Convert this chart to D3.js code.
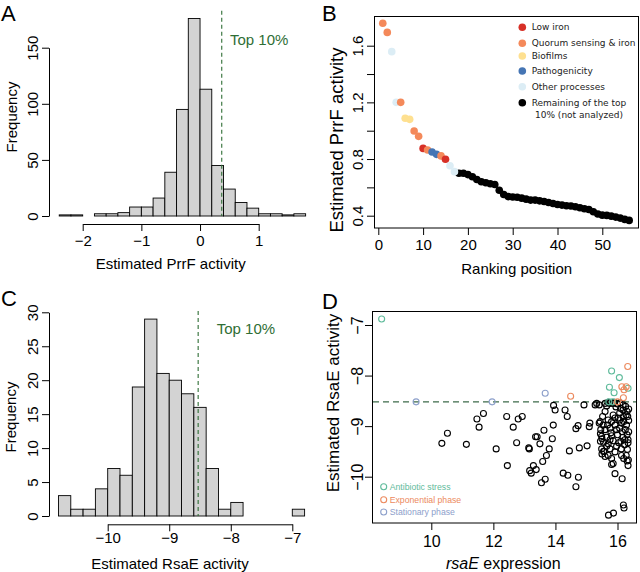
<!DOCTYPE html>
<html><head><meta charset="utf-8">
<script src="https://cdn.jsdelivr.net/npm/d3@7"></script>
<style>body{margin:0;background:#fff}</style>
</head><body>
<script>
// ---------- DATA ----------
// Panel A: histogram of estimated PrrF activity
const prrfBinEdges = [-2.4,-2.2,-2.0,-1.8,-1.6,-1.4,-1.2,-1.0,-0.8,-0.6,-0.4,-0.2,0,0.2,0.4,0.6,0.8,1.0,1.2,1.4,1.6,1.8];
const prrfCounts   = [1,1,0,2,2,3,8,8,16,39,95,176,113,45,24,12,7,2,2,1,2];
const prrfCutoff = 0.37;
const prrfXTicks = [-2,-1,0,1];
const prrfYTicks = [0,50,100,150];

// Panel B: ranked top-10% PrrF activity
const prrfRankedValues = [1.758,1.694,1.558,1.20,1.20,1.088,1.08,0.998,0.96,0.875,0.864,0.85,0.833,0.822,0.798,0.753,0.711,
  0.70,0.70,0.69,0.675,0.656,0.64,0.633,0.626,0.62,0.58,0.55,0.535,0.532,0.53,0.524,0.517,0.51,0.51,0.505,0.50,0.493,0.486,0.479,0.475,0.47,0.468,0.463,0.456,0.449,0.444,0.428,0.412,0.404,0.402,0.397,0.39,0.383,0.374,0.367];
const prrfRankedCategory = ["Q","Q","O","O","Q","B","B","Q","Q","L","Q","P","P","Q","L","O","O",
  "R","R","R","R","R","R","R","R","R","R","R","R","R","R","R","R","R","R","R","R","R","R","R","R","R","R","R","R","R","R","R","R","R","R","R","R","R","R","R","R"];
const rankCategories = ["L","Q","B","P","O","R"];
const rankCategoryLabels = ["Low iron","Quorum sensing & iron","Biofilms","Pathogenicity","Other processes","Remaining of the top"];
const rankXTicks = [0,10,20,30,40,50];
const rankYTicks = [0.4,0.6,0.8,1.0,1.2,1.4,1.6];
const rankYLabelled = [0.4,0.8,1.2,1.6];

// Panel C: histogram of estimated RsaE activity
const rsaeBinEdges = [-10.8,-10.6,-10.4,-10.2,-10.0,-9.8,-9.6,-9.4,-9.2,-9.0,-8.8,-8.6,-8.4,-8.2,-8.0,-7.8,-7.6,-7.4,-7.2,-7.0,-6.8];
const rsaeCounts   = [3,1,1,4,7,6,19,29,21,20,18,16,7,1,2,0,0,0,0,1];
const rsaeCutoff = -8.53;
const rsaeXTicks = [-10,-9,-8,-7];
const rsaeYTicks = [0,5,10,15,20,25,30];

// Panel D: rsaE expression vs estimated activity
const antibioticPts = [[8.40,-6.88],[15.81,-7.91],[16.06,-8.04],[15.74,-8.23],[15.89,-8.34],[16.34,-8.25],[15.72,-8.52],[15.84,-8.52]];
const exponentialPts = [[14.49,-8.41],[16.33,-7.82],[16.14,-8.22],[16.28,-8.22],[16.21,-8.28],[16.19,-8.44],[16.0,-8.52]];
const stationaryPts = [[9.51,-8.52],[11.96,-8.52],[13.67,-8.35]];
const otherPts = [
 [10.34,-9.34],[10.52,-9.14],[11.13,-9.36],[11.47,-8.86],[11.54,-9.02],[11.68,-8.75],[12.09,-9.45],[12.43,-8.81],[12.45,-9.78],[12.64,-9.02],
 [12.75,-9.33],[12.80,-8.86],[12.93,-8.81],[13.14,-9.43],[13.16,-9.45],[13.17,-9.88],[13.22,-9.93],[13.29,-9.78],[13.38,-9.86],[13.36,-9.21],
 [13.41,-9.21],[13.50,-9.35],[13.55,-10.12],[13.67,-10.05],[13.59,-9.70],[13.71,-9.58],[13.80,-9.45],[13.63,-9.08],[13.90,-9.25],[13.93,-8.98],
 [13.94,-8.59],[13.99,-8.68],[14.31,-8.68],[14.38,-8.81],[14.45,-9.49],[14.25,-9.93],[14.40,-9.97],[14.66,-9.05],[14.73,-8.99],[14.77,-9.43],
 [14.66,-10.20],[14.74,-10.01],[14.92,-8.58],[15.09,-9.01],[15.11,-8.94],[15.02,-9.39],[15.28,-8.58],[15.33,-8.55],
 [15.41,-8.94],[15.45,-9.15],[15.50,-9.25],[15.45,-9.30],[15.55,-9.50],[15.50,-9.55],[15.60,-9.60],
 [15.41,-8.58],[15.60,-8.55],[15.70,-8.53],[15.86,-8.55],[16.00,-8.56],[16.18,-8.58],[16.26,-8.61],[16.36,-8.66],[15.60,-8.71],[15.52,-8.81],
 [15.44,-8.91],[15.70,-8.88],[15.86,-8.78],[16.07,-8.74],[16.28,-8.78],[16.20,-8.91],[16.36,-8.89],[15.46,-9.07],[15.60,-9.07],[15.76,-9.04],
 [15.92,-8.98],[16.07,-9.04],[16.25,-9.07],[16.36,-9.11],[15.49,-9.20],[15.65,-9.22],[15.81,-9.19],[16.00,-9.17],[16.18,-9.22],[16.34,-9.27],
 [15.55,-9.32],[15.70,-9.35],[15.86,-9.29],[16.04,-9.33],[16.23,-9.37],[15.57,-9.50],[15.76,-9.45],[15.92,-9.51],[16.12,-9.45],[16.28,-9.58],
 [15.81,-9.64],[15.86,-9.74],[16.31,-9.69],[16.34,-9.78],[15.92,-9.94],[16.15,-10.04],
 [16.31,-8.71],[16.33,-8.81],[16.29,-8.98],[16.31,-9.17],[16.34,-9.33],[16.32,-9.46],[16.24,-9.27],[16.19,-8.81],[16.13,-8.94],[16.15,-9.11],
 [16.11,-9.30],[15.97,-9.07],[15.97,-9.40],[15.79,-9.13],[15.68,-8.98],[15.54,-8.98],[15.92,-8.84],[15.81,-8.91],[16.07,-8.88],[16.18,-8.68],
 [16.02,-8.84],[15.65,-9.40],[15.76,-9.27],[15.49,-9.45],[15.70,-9.58],[16.13,-9.58],[16.20,-9.64],
 [15.75,-8.55],[15.90,-8.53],[16.08,-8.54],[15.65,-8.60],[15.95,-8.62],[16.10,-8.65],
 [15.71,-10.76],[15.87,-10.72],[16.19,-10.56],[16.21,-10.62],[15.81,-9.76],[16.35,-9.67]
];
const rsaeDCutoff = -8.52;
const exprXTicks = [10,12,14,16];
const exprYTicks = [-7,-8,-9,-10];
const dLegendLabels = ["Antibiotic stress","Exponential phase","Stationary phase"];

// ---------- STYLE ----------
const FONT = "'Liberation Sans', Arial, Helvetica, sans-serif";
const catColor = {L:"#d73027",Q:"#f4895a",B:"#fee090",P:"#4575b4",O:"#dcedf5",R:"#000000"};
const dColors = ["#5fbb9b","#ec8a5e","#8da0cb"];
const green = "#2f6e35";

const svg = d3.select("body").append("svg").attr("width",640).attr("height",572)
  .attr("font-family",FONT);
svg.append("rect").attr("width",640).attr("height",572).attr("fill","#fff");

function yAxisR(x0, scale, ticks, fmt, off, fs, keepDomain){
  const g = svg.append("g").attr("transform",`translate(${x0},0)`)
    .call(d3.axisLeft(scale).tickValues(ticks).tickFormat(fmt).tickSize(7).tickSizeOuter(0));
  g.attr("font-family",FONT).attr("font-size",fs);
  g.selectAll(".tick text").attr("x",0).attr("dy",null).attr("y",-off)
    .attr("text-anchor","middle").attr("dominant-baseline","central")
    .attr("transform","rotate(-90)").attr("fill","#000");
  g.selectAll("line,path").attr("stroke","#000");
  if(!keepDomain) g.select(".domain").remove();
  return g;
}
function xAxisR(y0, scale, ticks, fmt, off, fs, keepDomain){
  const g = svg.append("g").attr("transform",`translate(0,${y0})`)
    .call(d3.axisBottom(scale).tickValues(ticks).tickFormat(fmt).tickSize(7).tickSizeOuter(0));
  g.attr("font-family",FONT).attr("font-size",fs);
  g.selectAll(".tick text").attr("y",off).attr("dy","0.35em").attr("fill","#000");
  g.selectAll("line,path").attr("stroke","#000");
  if(!keepDomain) g.select(".domain").remove();
  return g;
}
function label(txt,x,y,fs,opts={}){
  const t = svg.append("text").attr("x",x).attr("y",y).attr("font-size",fs).attr("fill",opts.fill||"#000")
    .attr("text-anchor",opts.anchor||"start").text(txt);
  if(opts.rotate){ t.attr("transform",`rotate(-90,${x},${y})`).attr("dominant-baseline","central"); }
  if(opts.family) t.attr("font-family",opts.family);
  return t;
}
const fmtMinus = d => String(d).replace("-","\u2212");

// ---------- PANEL A ----------
const xA = d3.scaleLinear().domain([-2,1]).range([82.7,258.7]);
const yA = d3.scaleLinear().domain([0,150]).range([216,47.7]);
svg.append("g").selectAll("rect").data(prrfCounts).join("rect")
  .attr("x",(d,i)=>xA(prrfBinEdges[i]))
  .attr("width",(d,i)=>xA(prrfBinEdges[i+1])-xA(prrfBinEdges[i]))
  .attr("y",d=>yA(d)).attr("height",d=>yA(0)-yA(d))
  .attr("fill","#d3d3d3").attr("stroke","#000").attr("stroke-width",0.9);
svg.append("line").attr("x1",xA(prrfCutoff)).attr("x2",xA(prrfCutoff))
  .attr("y1",yA(183)).attr("y2",yA(0)).attr("stroke",green).attr("stroke-width",1.1).attr("stroke-dasharray","4,3");
label("Top 10%",230,45,15,{fill:green});
yAxisR(49,yA,prrfYTicks,d=>d,16.5,15,true);
xAxisR(224,xA,prrfXTicks,fmtMinus,16.5,15,true);
label("Frequency",11,117,15,{rotate:true,anchor:"middle"});
label("Estimated PrrF activity",170.7,263.5,15,{anchor:"middle"}).attr("dominant-baseline","central");
label("A",1,21,22);

// ---------- PANEL B ----------
const xB = d3.scaleLinear().domain([0,50]).range([378.3,602.3]);
const yB = d3.scaleLinear().domain([0.4,1.6]).range([215.7,45.7]);
svg.append("rect").attr("x",374.5).attr("y",16.5).attr("width",264).attr("height",211.5)
  .attr("fill","none").attr("stroke","#000");
const bPts = prrfRankedValues.map((v,i)=>({r:i+1,v,c:prrfRankedCategory[i]}));
svg.append("g").selectAll("circle").data(bPts.filter(d=>d.c==="R")).join("circle")
  .attr("cx",d=>xB(d.r)).attr("cy",d=>yB(d.v)).attr("r",3.8).attr("fill",d=>catColor[d.c]);
svg.append("g").selectAll("circle").data(bPts.filter(d=>d.c!=="R")).join("circle")
  .attr("cx",d=>xB(d.r)).attr("cy",d=>yB(d.v)).attr("r",3.8).attr("fill",d=>catColor[d.c]);
yAxisR(374,yB,rankYTicks,d=>rankYLabelled.includes(d)?d3.format(".1f")(d):"",17,15,false);
xAxisR(228,xB,rankXTicks,d=>d,17,15,false);
label("Estimated PrrF activity",336,140,18.5,{rotate:true,anchor:"middle"});
label("Ranking position",516.7,268,15,{anchor:"middle"}).attr("dominant-baseline","central");
label("B",322,21,22);
// legend B
const legRowsY = [27.3,43.3,56,71,86.7,102.7];
const legB = svg.append("g").attr("font-family","'DejaVu Sans', Verdana, sans-serif").attr("font-size",9).attr("fill","#222");
rankCategories.forEach((c,i)=>{
  legB.append("circle").attr("cx",522.3).attr("cy",legRowsY[i]).attr("r",3.8).attr("fill",catColor[c]);
  legB.append("text").attr("x",531.7).attr("y",legRowsY[i]).attr("dominant-baseline","central").text(rankCategoryLabels[i]);
});
legB.append("text").attr("x",535).attr("y",115).attr("dominant-baseline","central").text("10% (not analyzed)");

// ---------- PANEL C ----------
const xC = d3.scaleLinear().domain([-10,-7]).range([107.7,292.3]);
const yC = d3.scaleLinear().domain([0,30]).range([516,312.3]);
svg.append("g").selectAll("rect").data(rsaeCounts).join("rect")
  .attr("x",(d,i)=>xC(rsaeBinEdges[i]))
  .attr("width",(d,i)=>xC(rsaeBinEdges[i+1])-xC(rsaeBinEdges[i]))
  .attr("y",d=>yC(d)).attr("height",d=>yC(0)-yC(d))
  .attr("fill","#d3d3d3").attr("stroke","#000").attr("stroke-width",0.9);
svg.append("line").attr("x1",xC(rsaeCutoff)).attr("x2",xC(rsaeCutoff))
  .attr("y1",yC(30.2)).attr("y2",yC(0)).attr("stroke",green).attr("stroke-width",1.1).attr("stroke-dasharray","4,3");
label("Top 10%",216.7,333.5,15,{fill:green});
yAxisR(49,yC,rsaeYTicks,d=>d,17,15,true);
xAxisR(524.3,xC,rsaeXTicks,fmtMinus,13,15,true);
label("Frequency",10,417,15,{rotate:true,anchor:"middle"});
label("Estimated RsaE activity",170,563.3,15,{anchor:"middle"}).attr("dominant-baseline","central");
label("C",1,306,22);

// ---------- PANEL D ----------
const xD = d3.scaleLinear().domain([10,16]).range([431.3,617.5]);
const yD = d3.scaleLinear().domain([-10,-7]).range([476.7,325]);
svg.append("rect").attr("x",372.5).attr("y",311.5).attr("width",264).attr("height",211.5)
  .attr("fill","none").attr("stroke","#000");
svg.append("line").attr("x1",373).attr("x2",636).attr("y1",yD(rsaeDCutoff)).attr("y2",yD(rsaeDCutoff))
  .attr("stroke","#3d6b4a").attr("stroke-width",1.2).attr("stroke-dasharray","6,4");
svg.append("g").selectAll("circle").data(otherPts).join("circle")
  .attr("cx",d=>xD(d[0])).attr("cy",d=>yD(d[1])).attr("r",3).attr("fill","none").attr("stroke","#000").attr("stroke-width",1.1);
[antibioticPts,exponentialPts,stationaryPts].forEach((pts,k)=>{
  svg.append("g").selectAll("circle").data(pts).join("circle")
    .attr("cx",d=>xD(d[0])).attr("cy",d=>yD(d[1])).attr("r",3).attr("fill","none").attr("stroke",dColors[k]).attr("stroke-width",1.1);
});
yAxisR(372,yD,exprYTicks,fmtMinus,14.5,16,false);
xAxisR(523,xD,exprXTicks,d=>d,18,16,false);
label("Estimated RsaE activity",333,403,17,{rotate:true,anchor:"middle"});
const tD = svg.append("text").attr("x",503.3).attr("y",563.3).attr("font-size",16).attr("text-anchor","middle").attr("dominant-baseline","central");
tD.append("tspan").attr("font-style","italic").text("rsaE");
tD.append("tspan").text(" expression");
label("D",322,309,22);
const dLegY = [486.7,499.7,512];
dLegendLabels.forEach((t,i)=>{
  svg.append("circle").attr("cx",383.7).attr("cy",dLegY[i]).attr("r",3).attr("fill","none").attr("stroke",dColors[i]).attr("stroke-width",1.1);
  svg.append("text").attr("x",389.7).attr("y",dLegY[i]).attr("font-size",8.7).attr("fill",dColors[i])
    .attr("dominant-baseline","central").text(t);
});
</script>
</body></html>
